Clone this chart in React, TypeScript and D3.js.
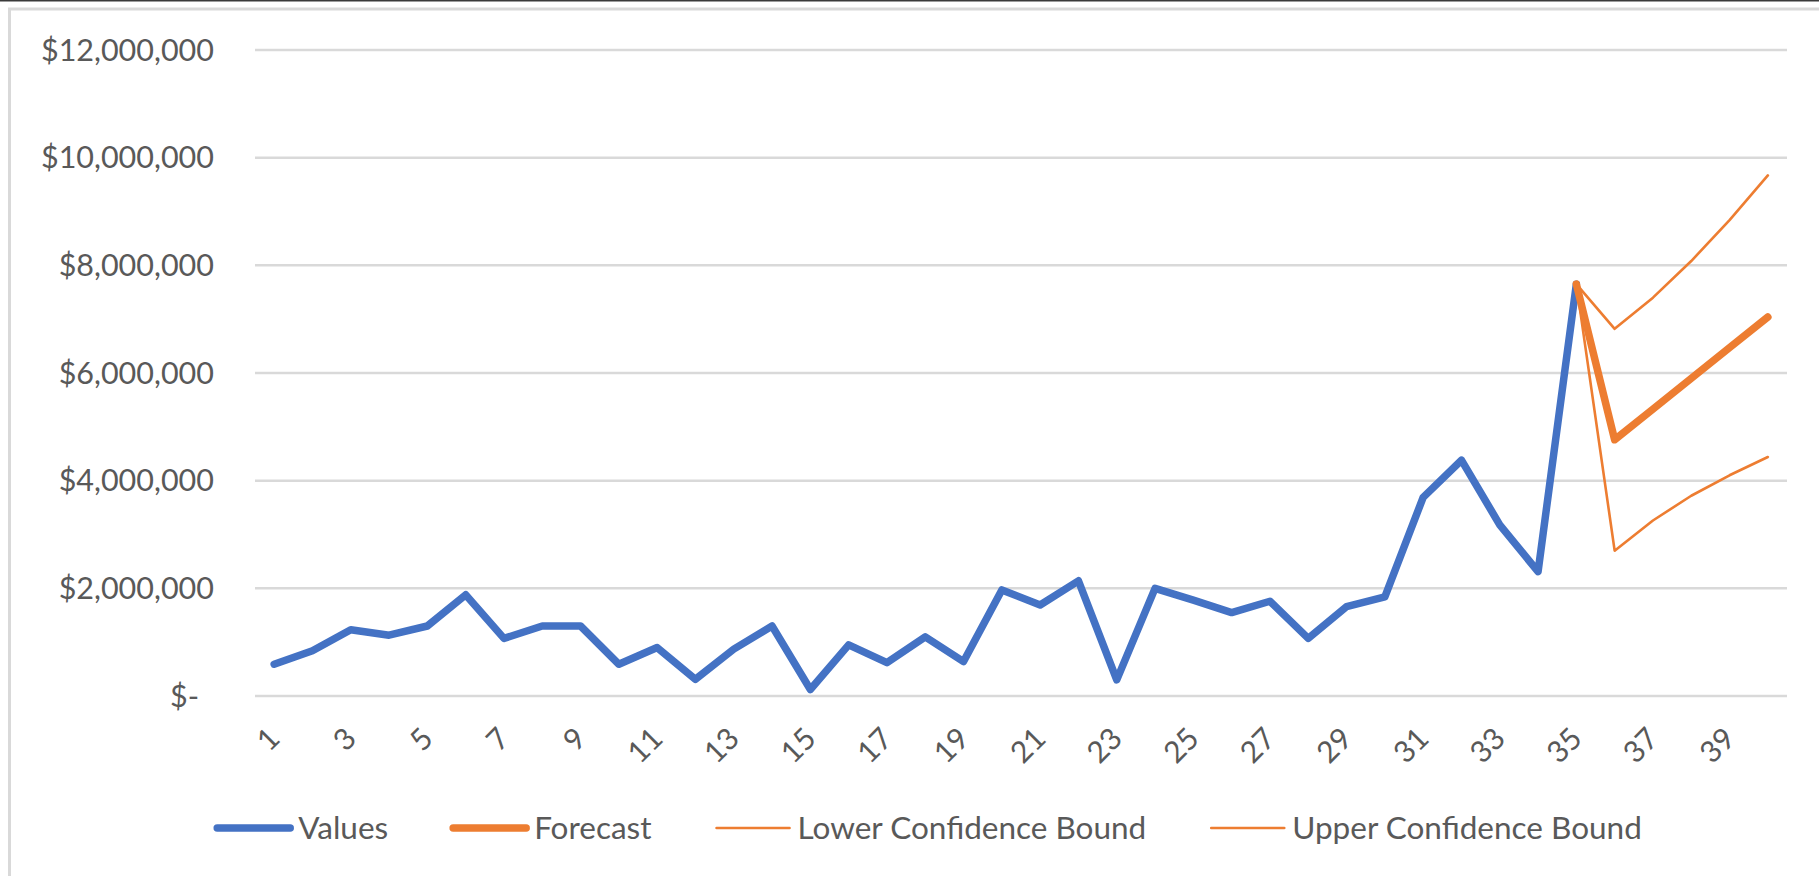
import { useEffect, useRef } from 'react';
import * as d3 from 'd3';

const WIDTH = 1819;
const HEIGHT = 876;

// period numbers on the x axis
const periods = d3.range(1, 41);
const tickPeriods = periods.filter(p => p % 2 === 1);
const yTicks = [0, 2e6, 4e6, 6e6, 8e6, 10e6, 12e6];

// historic values, periods 1..35
const values = [
  590000, 840000, 1230000, 1130000, 1300000, 1880000, 1070000, 1300000, 1300000, 590000,
  900000, 310000, 870000, 1300000, 120000, 950000, 620000, 1100000, 640000, 1970000,
  1690000, 2140000, 300000, 2000000, 1780000, 1550000, 1760000, 1070000, 1660000, 1840000,
  3690000, 4380000, 3180000, 2310000, 7650000,
];

// forecast + bounds, periods 35..40
const forecastPeriods = [35, 36, 37, 38, 39, 40];
const forecast = [7650000, 4760000, 5330000, 5900000, 6470000, 7040000];
const lowerBound = [7650000, 2700000, 3260000, 3720000, 4100000, 4440000];
const upperBound = [7650000, 6820000, 7400000, 8080000, 8840000, 9670000];

const BLUE = '#4472C4';
const ORANGE = '#ED7D31';
const TEXT = '#595959';
const GRID = '#D9D9D9';
const FONT = 'Lato, "Open Sans", sans-serif';

export default function App() {
  const svgRef = useRef<SVGSVGElement | null>(null);

  useEffect(() => {
    if (!svgRef.current) return;
    const svg = d3.select(svgRef.current);
    svg.selectAll('*').remove();

    const x = d3.scalePoint<number>().domain(periods).range([255, 1787]).padding(0.5);
    const y = d3.scaleLinear().domain([0, 12e6]).range([696, 50]);

    // frame
    svg.append('rect').attr('x', 0).attr('y', 0).attr('width', WIDTH).attr('height', HEIGHT).attr('fill', '#fff');
    svg.append('line').attr('x1', 0).attr('x2', WIDTH).attr('y1', 0.8).attr('y2', 0.8)
      .attr('stroke', '#3a3a3a').attr('stroke-width', 1.6);
    svg.append('rect').attr('x', 9.5).attr('y', 9).attr('width', WIDTH + 20).attr('height', HEIGHT + 20)
      .attr('fill', 'none').attr('stroke', GRID).attr('stroke-width', 3);

    // gridlines
    svg.append('g')
      .selectAll('line')
      .data(yTicks)
      .join('line')
      .attr('x1', 255)
      .attr('x2', 1787)
      .attr('y1', d => y(d))
      .attr('y2', d => y(d))
      .attr('stroke', GRID)
      .attr('stroke-width', 2.5);

    // y labels
    const fmt = d3.format('$,.0f');
    svg.append('g')
      .selectAll('text')
      .data(yTicks)
      .join('text')
      .attr('x', d => (d === 0 ? 199 : 214))
      .attr('y', d => y(d))
      .attr('dy', '0.35em')
      .attr('text-anchor', 'end')
      .attr('fill', TEXT)
      .style('font-family', FONT)
      .style('font-size', '30.5px')
      .text(d => (d === 0 ? '$-' : fmt(d)));

    // x labels, rotated
    svg.append('g')
      .selectAll('text')
      .data(tickPeriods)
      .join('text')
      .attr('transform', d => `translate(${x(d)},733) rotate(-45)`)
      .attr('dy', '0.35em')
      .attr('text-anchor', 'end')
      .attr('fill', TEXT)
      .style('font-family', FONT)
      .style('font-size', '30px')
      .text(d => d);

    const line = d3.line<[number, number]>().x(d => x(d[0])!).y(d => y(d[1]));

    const series = [
      { pts: values.map((v, i) => [i + 1, v] as [number, number]), color: BLUE, w: 7.5 },
      { pts: lowerBound.map((v, i) => [forecastPeriods[i], v] as [number, number]), color: ORANGE, w: 2.6 },
      { pts: upperBound.map((v, i) => [forecastPeriods[i], v] as [number, number]), color: ORANGE, w: 2.6 },
      { pts: forecast.map((v, i) => [forecastPeriods[i], v] as [number, number]), color: ORANGE, w: 7.5 },
    ];

    svg.append('g')
      .selectAll('path')
      .data(series)
      .join('path')
      .attr('d', d => line(d.pts))
      .attr('fill', 'none')
      .attr('stroke', d => d.color)
      .attr('stroke-width', d => d.w)
      .attr('stroke-linejoin', 'round')
      .attr('stroke-linecap', 'round');

    // legend
    const legendItems = [
      { name: 'Values', color: BLUE, w: 7.5 },
      { name: 'Forecast', color: ORANGE, w: 7.5 },
      { name: 'Lower Confidence Bound', color: ORANGE, w: 2.6 },
      { name: 'Upper Confidence Bound', color: ORANGE, w: 2.6 },
    ];
    const legend = svg.append('g');
    let cx = 0;
    legendItems.forEach((item, i) => {
      const g = legend.append('g').attr('transform', `translate(${cx},0)`);
      g.append('line')
        .attr('x1', 3).attr('x2', 76).attr('y1', 0).attr('y2', 0)
        .attr('stroke', item.color).attr('stroke-width', item.w).attr('stroke-linecap', 'round');
      const t = g.append('text')
        .attr('x', 84)
        .attr('dy', '0.35em')
        .attr('fill', TEXT)
        .style('font-family', FONT)
        .style('font-size', '31.5px')
        .text(item.name);
      const tw = (t.node() as SVGTextElement).getComputedTextLength();
      cx += 84 + tw + (i < legendItems.length - 1 ? 62 : 0);
    });
    legend.attr('transform', `translate(${928 - cx / 2},828)`);
  }, []);

  return (
    <svg
      ref={svgRef}
      width={WIDTH}
      height={HEIGHT}
      style={{ position: 'absolute', left: 0, top: 0, display: 'block' }}
    />
  );
}
